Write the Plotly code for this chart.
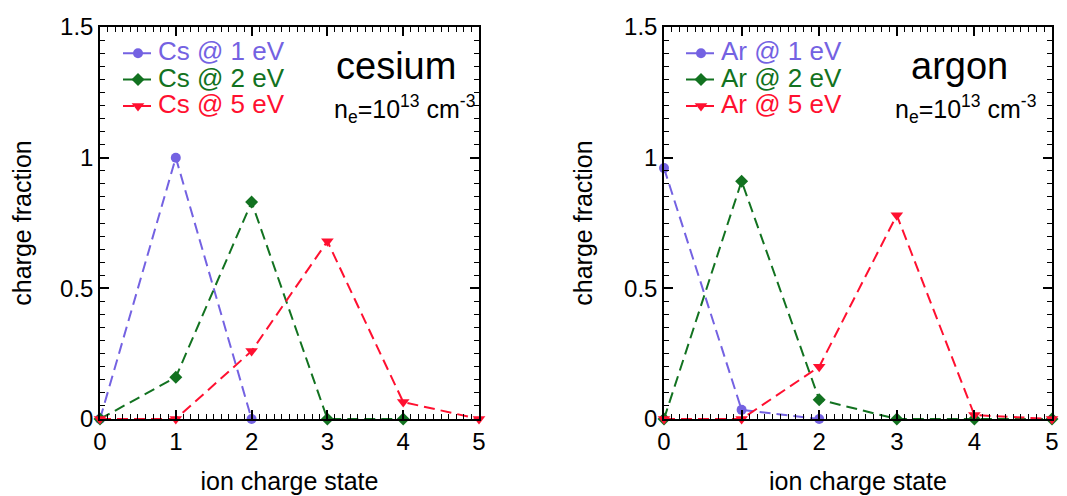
import plotly.graph_objects as go

charge_states = [0, 1, 2, 3, 4, 5]

cs_1ev_x = [0, 1, 2]
cs_1ev = [0.0, 1.0, 0.0]
cs_2ev_x = [0, 1, 2, 3, 4]
cs_2ev = [0.0, 0.16, 0.83, 0.0, 0.0]
cs_5ev_x = [0, 1, 2, 3, 4, 5]
cs_5ev = [0.0, 0.0, 0.26, 0.68, 0.065, 0.0]

ar_1ev_x = [0, 1, 2]
ar_1ev = [0.96, 0.035, 0.0]
ar_2ev_x = [0, 1, 2, 3, 4, 5]
ar_2ev = [0.0, 0.91, 0.074, 0.0, 0.0, 0.0]
ar_5ev_x = [0, 1, 2, 3, 4, 5]
ar_5ev = [0.0, 0.0, 0.20, 0.78, 0.015, 0.0]

y_ticks = [0, 0.5, 1, 1.5]
y_ticklabels = ["0", "0.5", "1", "1.5"]

PURPLE = "#7462e2"
GREEN = "#127220"
RED = "#ff1030"
FONT = "Liberation Sans"

# page has an 8px body margin, so the figure is laid out 8px smaller
W, H = 1059, 488

fig = go.Figure()

def add(x, y, name, color, symbol, size, xa, ya, legend):
    fig.add_trace(go.Scatter(
        x=x, y=y, mode="lines+markers",
        name=f'<span style="color:{color};font-size:26px">{name}</span>',
        line=dict(color=color, dash="11px,6px", width=2),
        marker=dict(color=color, symbol=symbol, size=size),
        xaxis=xa, yaxis=ya, legend=legend, cliponaxis=False,
    ))

add(cs_1ev_x, cs_1ev, "Cs @ 1 eV", PURPLE, "circle", 10, "x", "y", "legend")
add(cs_2ev_x, cs_2ev, "Cs @ 2 eV", GREEN, "diamond", 10, "x", "y", "legend")
add(cs_5ev_x, cs_5ev, "Cs @ 5 eV", RED, "triangle-down", 11, "x", "y", "legend")
add(ar_1ev_x, ar_1ev, "Ar @ 1 eV", PURPLE, "circle", 10, "x2", "y2", "legend2")
add(ar_2ev_x, ar_2ev, "Ar @ 2 eV", GREEN, "diamond", 10, "x2", "y2", "legend2")
add(ar_5ev_x, ar_5ev, "Ar @ 5 eV", RED, "triangle-down", 11, "x2", "y2", "legend2")

TOP, BOT = 19, 77
PH = H - TOP - BOT

def xax(domain, anchor):
    return dict(
        domain=domain, anchor=anchor, range=[0, 5],
        tickvals=charge_states, ticktext=[str(c) for c in charge_states],
        showline=True, linecolor="black", linewidth=1.5, mirror="allticks",
        ticks="inside", ticklen=9, tickwidth=1.5, tickcolor="black",
        minor=dict(ticks="inside", dtick=0.1, ticklen=5, tickwidth=1.2, tickcolor="black", showgrid=False),
        showgrid=False, zeroline=False,
        tickfont=dict(family=FONT, size=24, color="black"),
        title=dict(text="ion charge state", font=dict(family=FONT, size=25, color="black"), standoff=19),
    )

def yax(anchor, standoff):
    return dict(
        domain=[0, 1], anchor=anchor, range=[0, 1.5],
        tickvals=y_ticks, ticktext=y_ticklabels,
        showline=True, linecolor="black", linewidth=1.5, mirror="allticks",
        ticks="inside", ticklen=9, tickwidth=1.5, tickcolor="black",
        minor=dict(ticks="inside", dtick=0.05, ticklen=5, tickwidth=1.2, tickcolor="black", showgrid=False),
        showgrid=False, zeroline=False,
        tickfont=dict(family=FONT, size=24, color="black"),
        title=dict(text="charge fraction", font=dict(family=FONT, size=25, color="black"), standoff=standoff),
    )

fig.update_layout(
    width=W, height=H,
    margin=dict(l=0, r=0, t=TOP, b=BOT, autoexpand=False),
    paper_bgcolor="white", plot_bgcolor="white",
    font=dict(family=FONT, color="black"),
    xaxis=xax([92 / W, 471 / W], "y"),
    yaxis=yax("x", 21),
    xaxis2=xax([656 / W, 1044 / W], "y2"),
    yaxis2=yax("x2", 24),
    legend=dict(x=110 / W, y=1 - 8 / PH, xanchor="left", yanchor="top",
                bgcolor="rgba(0,0,0,0)", font=dict(family=FONT, size=18),
                itemwidth=30, tracegroupgap=0),
    legend2=dict(x=673 / W, y=1 - 8 / PH, xanchor="left", yanchor="top",
                 bgcolor="rgba(0,0,0,0)", font=dict(family=FONT, size=18),
                 itemwidth=30, tracegroupgap=0),
    showlegend=True,
)

notes = [
    ("x domain", "y domain", (388 - 92) / 379, 1 - (58 - TOP) / PH, "cesium", 38),
    ("x domain", "y domain", (396 - 92) / 379, 1 - (101 - TOP) / PH, "n<sub>e</sub>=10<sup>13</sup> cm<sup>-3</sup>", 25),
    ("x2 domain", "y2 domain", (951 - 656) / 388, 1 - (58 - TOP) / PH, "argon", 38),
    ("x2 domain", "y2 domain", (957 - 656) / 388, 1 - (101 - TOP) / PH, "n<sub>e</sub>=10<sup>13</sup> cm<sup>-3</sup>", 25),
]
for xr, yr, x, y, t, s in notes:
    fig.add_annotation(xref=xr, yref=yr, x=x, y=y, text=t, showarrow=False,
                       xanchor="center", yanchor="middle",
                       font=dict(family=FONT, size=s, color="black"))

fig.write_html("out.html")
